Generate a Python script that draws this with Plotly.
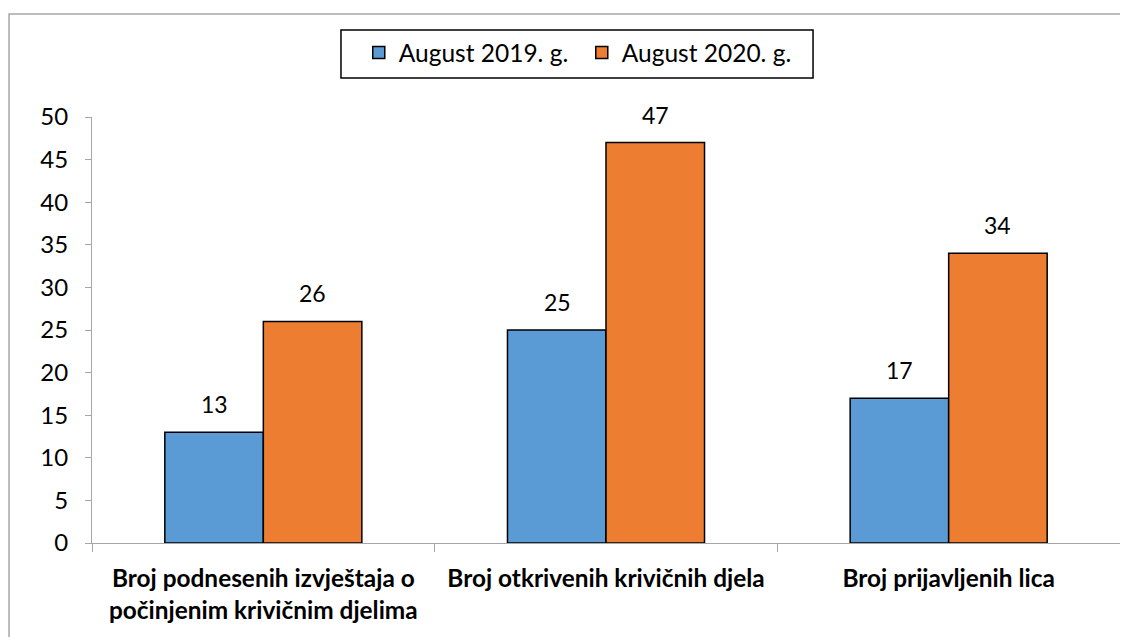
import plotly.graph_objects as go

categories = ["Broj podnesenih izvještaja o<br>počinjenim krivičnim djelima",
              "Broj otkrivenih krivičnih djela",
              "Broj prijavljenih lica"]
series_2019 = [13, 25, 17]
series_2020 = [26, 47, 34]
names = ["August 2019. g.", "August 2020. g."]
y_ticks = [0, 5, 10, 15, 20, 25, 30, 35, 40, 45, 50]

FONT = "Lato, Carlito, Calibri, sans-serif"
FS = 24

fig = go.Figure()
fig.add_trace(go.Bar(x=categories, y=series_2019, name=names[0],
                     marker=dict(color="#5B9BD5", line=dict(color="black", width=1.5))))
fig.add_trace(go.Bar(x=categories, y=series_2020, name=names[1],
                     marker=dict(color="#ED7D31", line=dict(color="black", width=1.5))))

annotations = []
for vals, shift in ((series_2019, -49), (series_2020, 49)):
    for c, v in zip(categories, vals):
        annotations.append(dict(x=c, y=v, xref="x", yref="y", text=str(v), showarrow=False,
                                xshift=shift, yshift=12, yanchor="bottom",
                                font=dict(size=FS - 1, family=FONT, color="black")))

fig.update_layout(
    width=1120, height=629,
    margin=dict(l=84, r=8, t=109, b=94),
    plot_bgcolor="white", paper_bgcolor="white",
    barmode="group", bargap=0.425, bargroupgap=0,
    font=dict(family=FONT, size=FS, color="black"),
    legend=dict(orientation="h", x=0.2595, xanchor="left", y=1.204, yanchor="top",
                borderwidth=0, font=dict(size=24.5, family=FONT),
                entrywidth=178, entrywidthmode="pixels", bgcolor="rgba(0,0,0,0)"),
    xaxis=dict(showline=True, linecolor="#A6A6A6", linewidth=1, ticks="outside",
               tickson="boundaries", ticklen=8, tickcolor="#A6A6A6", automargin=False,
               ticklabelstandoff=14,
               tickfont=dict(size=24.4, family=FONT, color="black", weight="bold")),
    yaxis=dict(range=[0, 50], tickvals=y_ticks, showline=True, linecolor="#A6A6A6",
               ticks="outside", ticklen=6, tickcolor="#A6A6A6", showgrid=False,
               zeroline=False, automargin=False, ticklabelstandoff=12,
               tickfont=dict(size=FS, family=FONT, color="black")),
    annotations=annotations,
    shapes=[dict(type="rect", xref="paper", yref="paper",
                 x0=-0.0807, x1=1.05, y0=-0.3, y1=1.2418,
                 line=dict(color="#A6A6A6", width=1.5), fillcolor="rgba(0,0,0,0)"),
            dict(type="rect", xref="paper", yref="paper",
                 x0=0.2422, x1=0.7014, y0=1.0915, y1=1.2042,
                 line=dict(color="black", width=1.5), fillcolor="rgba(0,0,0,0)")],
)

fig.write_html("out.html")
